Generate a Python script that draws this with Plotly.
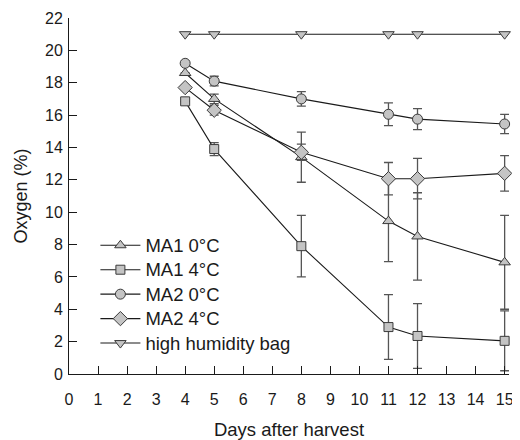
import plotly.graph_objects as go

days = [4, 5, 8, 11, 12, 15]

ma1_0 = [18.6, 17.0, 13.4, 9.45, 8.5, 6.9]
ma1_0_err = [0.0, 0.3, 1.55, 2.5, 2.7, 2.9]

ma1_4 = [16.85, 13.9, 7.9, 2.9, 2.35, 2.05]
ma1_4_err = [0.0, 0.4, 1.9, 2.0, 2.0, 1.85]

ma2_0 = [19.2, 18.1, 17.0, 16.05, 15.75, 15.45]
ma2_0_err = [0.0, 0.3, 0.45, 0.7, 0.65, 0.6]

ma2_4 = [17.7, 16.3, 13.7, 12.07, 12.07, 12.4]
ma2_4_err = [0.0, 0.3, 0.5, 1.0, 1.25, 1.1]

high_hum = [21, 21, 21, 21, 21, 21]

series_names = ["MA1 0°C", "MA1 4°C", "MA2 0°C", "MA2 4°C", "high humidity bag"]

series = [
    (series_names[0], ma1_0, ma1_0_err, "triangle-up", 10),
    (series_names[1], ma1_4, ma1_4_err, "square", 9),
    (series_names[2], ma2_0, ma2_0_err, "circle", 10),
    (series_names[3], ma2_4, ma2_4_err, "diamond", 11),
    (series_names[4], high_hum, None, "triangle-down", 10),
]

FILL = "#c4c4c4"
EDGE = "#3a3a3a"
FONT = "Liberation Sans, Arial, sans-serif"

fig = go.Figure()
for i, (name, vals, err, sym, sz) in enumerate(series):
    kw = {}
    if err is not None:
        kw["error_y"] = dict(type="data", array=err, visible=True,
                             color="#555555", thickness=1.3, width=4.5)
    fig.add_trace(go.Scatter(
        x=days, y=vals,
        name=f'<span style="font-size:18.5px">{name}</span>',
        mode="lines+markers",
        line=dict(color="#1a1a1a", width=1.1),
        marker=dict(symbol=sym, size=sz, color=FILL,
                    line=dict(color=EDGE, width=1)),
        cliponaxis=False, **kw))

# page body has an 8px margin, so the figure is 8px smaller on each axis
fig.update_layout(
    width=512, height=432,
    margin=dict(l=61, r=11, t=9.5, b=65.5),
    plot_bgcolor="white", paper_bgcolor="white",
    font=dict(family=FONT, size=16, color="#1a1a1a"),
    showlegend=True,
    legend=dict(x=0.06, y=0.41, xanchor="left", yanchor="top",
                bgcolor="rgba(0,0,0,0)", font=dict(size=16.5),
                itemwidth=40, traceorder="normal"),
    xaxis=dict(range=[0, 15.15], tickmode="linear", tick0=0, dtick=1,
               ticks="inside", ticklen=8, tickwidth=1, tickcolor="#1a1a1a",
               showline=True, linecolor="#1a1a1a", linewidth=1,
               showgrid=False, zeroline=False, automargin=False,
               title=dict(text="Days after harvest", standoff=16,
                          font=dict(size=18.5)),
               tickfont=dict(size=16), ticklabelstandoff=11),
    yaxis=dict(range=[0, 22], tickmode="linear", tick0=0, dtick=2,
               ticks="inside", ticklen=8, tickwidth=1, tickcolor="#1a1a1a",
               showline=True, linecolor="#1a1a1a", linewidth=1,
               showgrid=False, zeroline=False, automargin=False,
               title=dict(text="Oxygen (%)", standoff=12,
                          font=dict(size=18)),
               tickfont=dict(size=16), ticklabelstandoff=2),
)

fig.write_html("out.html")
